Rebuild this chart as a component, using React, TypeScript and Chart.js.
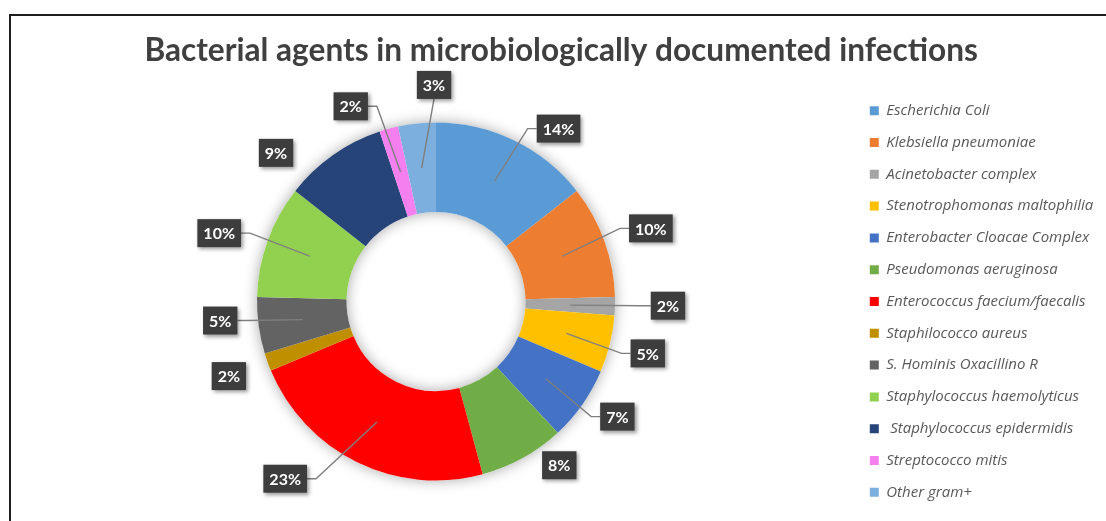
import React, { useEffect, useRef } from "react";
import { Chart, registerables } from "chart.js";

Chart.register(...registerables);

const W = 1106;
const H = 521;

const titleText = "Bacterial agents in microbiologically documented infections";

const categories = [
  "Escherichia Coli",
  "Klebsiella pneumoniae",
  "Acinetobacter complex",
  "Stenotrophomonas maltophilia",
  "Enterobacter Cloacae Complex",
  "Pseudomonas aeruginosa",
  "Enterococcus faecium/faecalis",
  "Staphilococco aureus",
  "S. Hominis Oxacillino R",
  "Staphylococcus haemolyticus",
  " Staphylococcus epidermidis",
  "Streptococco mitis",
  "Other gram+",
];

// share of documented infections (%)
const shares = [14.4, 10.2, 1.65, 5.15, 6.7, 7.7, 22.9, 1.6, 5.1, 10.2, 9.3, 1.7, 3.4];

const sliceColors = [
  "#5B9BD5",
  "#ED7D31",
  "#A5A5A5",
  "#FFC000",
  "#4472C4",
  "#70AD47",
  "#FF0000",
  "#BF8F00",
  "#636363",
  "#92D050",
  "#264478",
  "#F47FEF",
  "#7CAFDD",
];

const LEGEND_FONT = { family: "'Open Sans'", size: 15, style: "italic" as const };
const LEGEND_PAD = 16.8;
const LEGEND_BOX = 9;
const LEGEND_LEFT = 853;
const PAD_LEFT = 19;

const framePlugin = {
  id: "frame",
  beforeDraw(chart: any) {
    const ctx = chart.ctx;
    ctx.save();
    ctx.strokeStyle = "#1e1e1e";
    ctx.lineWidth = 2;
    ctx.beginPath();
    ctx.moveTo(10, H + 5);
    ctx.lineTo(10, 15);
    ctx.lineTo(W + 5, 15);
    ctx.stroke();
    ctx.restore();
  },
};

const ringShadowPlugin = {
  id: "ringShadow",
  beforeDatasetsDraw(chart: any) {
    const meta = chart.getDatasetMeta(0);
    if (!meta.data.length) return;
    const p = meta.data[0].getProps(["x", "y", "innerRadius", "outerRadius"], true);
    const ctx = chart.ctx;
    ctx.save();
    ctx.shadowColor = "rgba(0,0,0,0.35)";
    ctx.shadowBlur = 14;
    ctx.fillStyle = "#ffffff";
    ctx.beginPath();
    ctx.arc(p.x, p.y, p.outerRadius, 0, Math.PI * 2);
    ctx.arc(p.x, p.y, p.innerRadius, Math.PI * 2, 0, true);
    ctx.closePath();
    ctx.fill("evenodd");
    ctx.restore();
  },
};

const boxLabelPlugin = {
  id: "boxLabels",
  afterDatasetsDraw(chart: any, _args: any, opts: any) {
    const meta = chart.getDatasetMeta(0);
    const data: number[] = chart.data.datasets[0].data;
    const total = data.reduce((a, b) => a + b, 0);
    const ctx = chart.ctx;
    meta.data.forEach((arc: any, i: number) => {
      const p = arc.getProps(["x", "y", "startAngle", "endAngle", "innerRadius", "outerRadius"], true);
      const mid = (p.startAngle + p.endAngle) / 2;
      const la = mid + (opts.angleShift[i] * Math.PI) / 180;
      const d = p.outerRadius * opts.distance[i];
      const cx = p.x + d * Math.cos(la);
      const cy = p.y + d * Math.sin(la);
      const text = Math.round((data[i] / total) * 100) + "%";
      ctx.save();
      ctx.font = "bold 16px Lato";
      const tw = ctx.measureText(text).width;
      const w = tw + 12;
      const h = 28;
      const left = cx - w / 2;
      const top = cy - h / 2;
      if (opts.leader[i]) {
        const rm = (p.innerRadius + p.outerRadius) / 2;
        const sx = p.x + rm * Math.cos(mid);
        const sy = p.y + rm * Math.sin(mid);
        ctx.strokeStyle = "#7f7f7f";
        ctx.lineWidth = 1.4;
        ctx.beginPath();
        ctx.moveTo(sx, sy);
        if (Math.abs(cx - p.x) < w) {
          ctx.lineTo(cx, cy < p.y ? top + h : top);
        } else if (cx > p.x) {
          ctx.lineTo(left - 9, cy);
          ctx.lineTo(left, cy);
        } else {
          ctx.lineTo(left + w + 9, cy);
          ctx.lineTo(left + w, cy);
        }
        ctx.stroke();
      }
      ctx.shadowColor = "rgba(0,0,0,0.4)";
      ctx.shadowBlur = 4;
      ctx.shadowOffsetX = 2;
      ctx.shadowOffsetY = 2;
      ctx.fillStyle = "#3d3d3d";
      ctx.fillRect(left, top, w, h);
      ctx.shadowColor = "transparent";
      ctx.fillStyle = "#ffffff";
      ctx.textAlign = "center";
      ctx.textBaseline = "middle";
      ctx.fillText(text, cx, cy + 1);
      ctx.restore();
    });
  },
};

export default function App() {
  const canvasRef = useRef<HTMLCanvasElement | null>(null);

  useEffect(() => {
    const canvas = canvasRef.current;
    if (!canvas) return;

    const mctx = document.createElement("canvas").getContext("2d")!;
    mctx.font = `italic ${LEGEND_FONT.size}px ${LEGEND_FONT.family}`;
    const maxText = Math.max(...categories.map((c) => mctx.measureText(c).width));
    const legendW = LEGEND_PAD + LEGEND_BOX + LEGEND_FONT.size / 2 + maxText + 10;
    const padRight = W - LEGEND_LEFT - legendW;

    const chart = new Chart(canvas, {
      type: "doughnut",
      data: {
        labels: categories,
        datasets: [
          {
            data: shares,
            backgroundColor: sliceColors,
            borderWidth: 0,
            hoverOffset: 0,
          },
        ],
      },
      options: {
        responsive: false,
        animation: false,
        radius: 179,
        cutout: "50%",
        layout: { padding: { left: PAD_LEFT, right: padRight, top: 0, bottom: 3 } },
        plugins: {
          title: {
            display: true,
            text: titleText,
            color: "#404040",
            font: { family: "Lato", size: 31.6, weight: "bold", lineHeight: 1.2 },
            padding: { top: 31.5, bottom: 15.6 },
          },
          legend: {
            position: "right",
            fullSize: false,
            align: "center",
            labels: {
              boxWidth: LEGEND_BOX,
              boxHeight: LEGEND_BOX,
              padding: LEGEND_PAD,
              color: "#595959",
              font: LEGEND_FONT,
            },
          },
          tooltip: { enabled: false },
          boxLabels: {
            angleShift: [9.4, 1, -0.5, 0, -2.7, -8, 14.3, 0, 2.7, -2.3, -12, -8.3, 5.6],
            distance: [1.184, 1.268, 1.296, 1.218, 1.2, 1.145, 1.3, 1.23, 1.21, 1.27, 1.22, 1.19, 1.21],
            leader: [true, true, true, true, true, false, true, false, true, true, false, true, true],
          },
        } as any,
      } as any,
      plugins: [framePlugin, ringShadowPlugin, boxLabelPlugin],
    });

    return () => chart.destroy();
  }, []);

  return (
    <div style={{ position: "fixed", left: 0, top: 0, width: W, height: H, background: "#fff", overflow: "hidden" }}>
      <canvas ref={canvasRef} width={W} height={H} style={{ display: "block" }} />
    </div>
  );
}
